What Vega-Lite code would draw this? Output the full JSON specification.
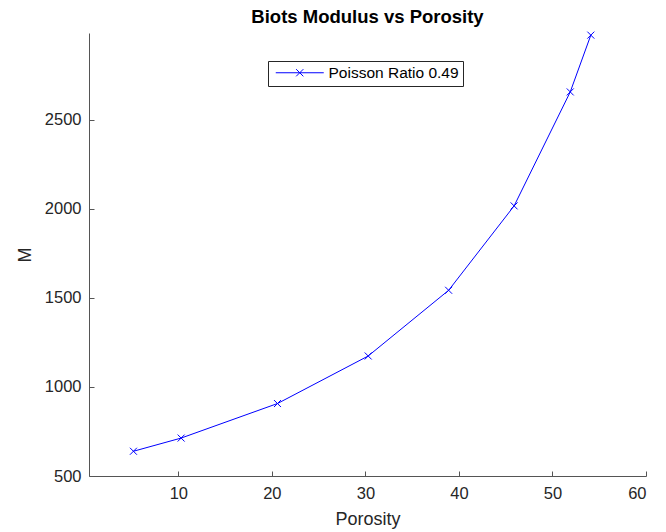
{
  "$schema": "https://vega.github.io/schema/vega-lite/v6.json",
  "width": 557,
  "height": 443,
  "autosize": {"type": "none"},
  "padding": {"left": 89, "top": 33, "right": 20, "bottom": 56},
  "background": "white",
  "title": {
    "text": "Biots Modulus vs Porosity",
    "font": "Liberation Sans",
    "fontSize": 18.5,
    "fontWeight": "bold",
    "color": "#000000",
    "anchor": "middle",
    "offset": 3
  },
  "config": {
    "view": {"stroke": null},
    "axis": {
      "grid": false,
      "domainColor": "#555555",
      "domainWidth": 1,
      "tickColor": "#555555",
      "tickSize": -5,
      "labelFont": "Liberation Sans",
      "labelFontSize": 16.5,
      "labelColor": "#262626",
      "titleFont": "Liberation Sans",
      "titleFontSize": 18,
      "titleFontWeight": "normal",
      "titleColor": "#262626"
    }
  },
  "data": {
    "values": [
      {"porosity": 5.2, "M": 639, "series": "Poisson Ratio 0.49"},
      {"porosity": 10.3, "M": 713, "series": "Poisson Ratio 0.49"},
      {"porosity": 20.6, "M": 907, "series": "Poisson Ratio 0.49"},
      {"porosity": 30.3, "M": 1174, "series": "Poisson Ratio 0.49"},
      {"porosity": 38.9, "M": 1543, "series": "Poisson Ratio 0.49"},
      {"porosity": 45.9, "M": 2017, "series": "Poisson Ratio 0.49"},
      {"porosity": 51.9, "M": 2657, "series": "Poisson Ratio 0.49"},
      {"porosity": 54.1, "M": 2976, "series": "Poisson Ratio 0.49"}
    ]
  },
  "encoding": {
    "x": {
      "field": "porosity",
      "type": "quantitative",
      "scale": {"domain": [0.45, 60], "nice": false, "zero": false},
      "axis": {"title": "Porosity", "values": [10, 20, 30, 40, 50, 60], "format": "d", "labelPadding": 14, "titlePadding": 9}
    },
    "y": {
      "field": "M",
      "type": "quantitative",
      "scale": {"domain": [500, 2988], "nice": false, "zero": false},
      "axis": {"title": "M", "values": [500, 1000, 1500, 2000, 2500], "format": "d", "labelPadding": 13, "titlePadding": 10}
    }
  },
  "layer": [
    {
      "mark": {"type": "line", "strokeWidth": 1},
      "encoding": {
        "color": {
          "field": "series",
          "type": "nominal",
          "scale": {"range": ["#0000ff"]},
          "legend": {
            "title": null,
            "orient": "none",
            "legendX": 179,
            "legendY": 28,
            "strokeColor": "#262626",
            "fillColor": "white",
            "padding": 4,
            "symbolType": "M-1,0L11,0M4.1,-0.9L5.9,0.9M4.1,0.9L5.9,-0.9",
            "symbolSize": 64,
            "symbolStrokeWidth": 1,
            "symbolStrokeColor": "#0000ff",
            "symbolFillColor": "transparent",
            "labelFont": "Liberation Sans",
            "labelFontSize": 15.5,
            "labelColor": "#000000",
            "labelOffset": 41
          }
        }
      }
    },
    {
      "mark": {
        "type": "point",
        "shape": "M-1,-1L1,1M-1,1L1,-1",
        "filled": false,
        "size": 49,
        "strokeWidth": 1,
        "color": "#0000ff",
        "opacity": 1
      }
    }
  ]
}
